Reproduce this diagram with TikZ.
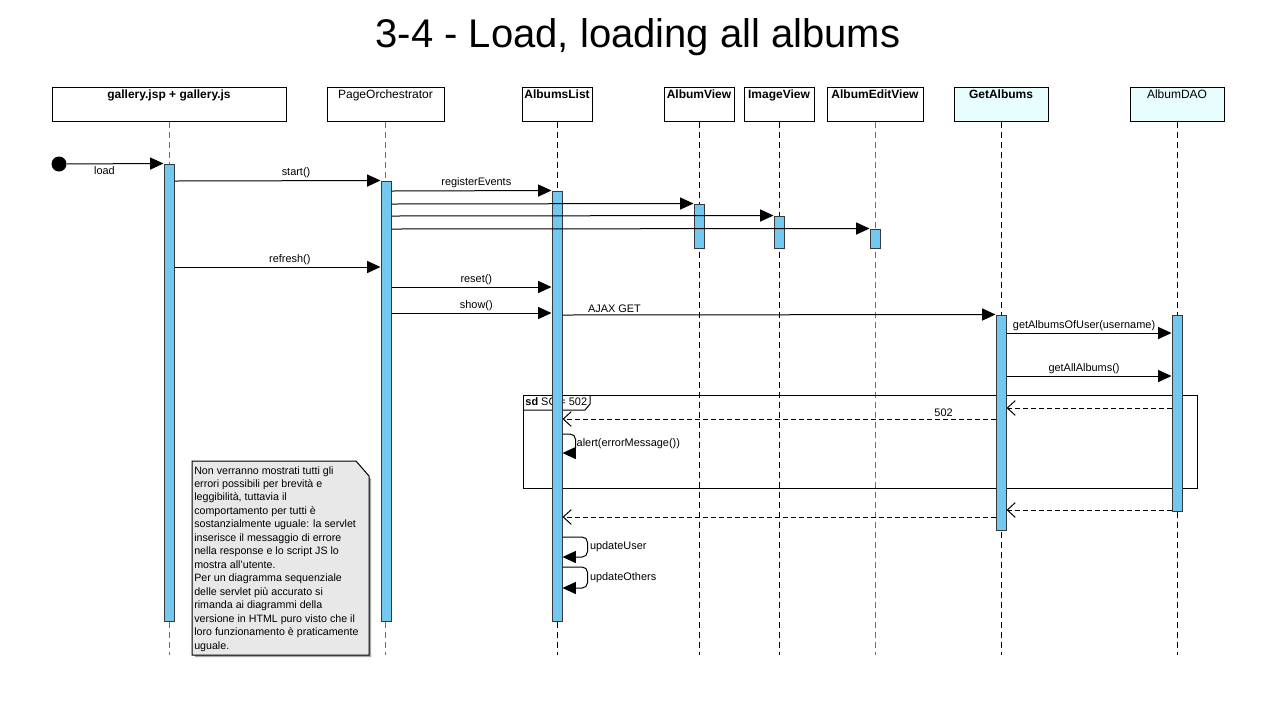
\documentclass[tikz,border=0pt]{standalone}
\usepackage{fontspec}
\setmainfont{Liberation Sans}
\usetikzlibrary{arrows.meta,fit}
\definecolor{actblue}{RGB}{114,200,238}
\definecolor{actedge}{RGB}{54,57,61}
\definecolor{srvcyan}{RGB}{232,253,254}
\definecolor{notegray}{RGB}{232,232,232}
\definecolor{lifegray}{RGB}{110,110,110}

\begin{document}
\begin{tikzpicture}[
  x=0.75pt,y=-0.75pt,
  head/.style={
    draw,
    fill=white,
    inner sep=0pt,
    line width=0.75pt,
    label={[font=\fontsize{9}{10}\selectfont,anchor=north,inner sep=2pt]north:#1}
  },
  server/.style={head=#1,fill=srvcyan},
  life/.style={dash pattern=on 4.5pt off 3pt,line width=0.75pt},
  act/.style={draw=actedge,fill=actblue,inner sep=0pt,minimum width=7.5pt,line width=0.75pt},
  msg/.style={-{Triangle[length=10pt,width=9pt]},line width=0.75pt},
  ret/.style={-{Straight Barb[length=6pt,width=11pt]},dash pattern=on 3.5pt off 2.5pt,line width=0.75pt},
  selfmsg/.style={msg,rounded corners=4pt},
  lbl/.style={font=\fontsize{8.2}{9}\selectfont,inner sep=1.5pt}
]
\useasboundingbox (0,0) rectangle (1276,719);
\node[font=\fontsize{30}{36}\selectfont,anchor=base] (title) at (638,47) {3-4 - Load, loading all albums};

\node[head={\textbf{gallery.jsp + gallery.js}},fit={(52,87) (286,121)}] (gal) {};
\node[head={PageOrchestrator},fit={(327,87) (444,121)}] (po) {};
\node[head={\textbf{AlbumsList}},fit={(522,87) (592,121)}] (al) {};
\node[head={\textbf{AlbumView}},fit={(664,87) (734,121)}] (av) {};
\node[head={\textbf{ImageView}},fit={(744,87) (814,121)}] (iv) {};
\node[head={\textbf{AlbumEditView}},fit={(827,87) (923,121)}] (aev) {};
\node[server={\textbf{GetAlbums}},fit={(954,87) (1048,121)}] (ga) {};
\node[server={AlbumDAO},fit={(1130,87) (1224,121)}] (dao) {};

\draw[life,draw=lifegray] (gal.south) -- (gal.south |- 0,655);
\draw[life,draw=lifegray] (po.south) -- (po.south |- 0,655);
\draw[life] (al.south) -- (al.south |- 0,655);
\draw[life] (av.south) -- (av.south |- 0,655);
\draw[life] (iv.south) -- (iv.south |- 0,655);
\draw[life,draw=lifegray] (aev.south) -- (aev.south |- 0,655);
\draw[life] (ga.south) -- (ga.south |- 0,655);
\draw[life] (dao.south) -- (dao.south |- 0,655);

\node[draw,line width=0.75pt,inner sep=0pt,fit={(523,395) (1197,488)}] (sd) {};
\draw[line width=0.75pt] (523,410) -- (585,410) -- (590,404) -- (590,395);
\node[lbl,anchor=north west,inner sep=2pt] (sdlbl) at (sd.north west) {\textbf{sd} SC = 502};

\fill[gray!70] (195,464) -- (358,464) -- (371,479) -- (371,657) -- (195,657) -- cycle;
\draw[fill=notegray,line width=0.75pt] (192,461) -- (356,461) -- (369,476) -- (369,655) -- (192,655) -- cycle;
\node[anchor=north west,align=left,inner sep=0pt,font=\fontsize{8}{10.1}\selectfont] (notetxt) at (194,466)
  {Non verranno mostrati tutti gli\\errori possibili per brevità e\\leggibilità, tuttavia il\\comportamento per tutti è\\sostanzialmente uguale: la servlet\\inserisce il messaggio di errore\\nella response e lo script JS lo\\mostra all'utente.\\Per un diagramma sequenziale\\delle servlet più accurato si\\rimanda ai diagrammi della\\versione in HTML puro visto che il\\loro funzionamento è praticamente\\uguale.};

\node[act,fit={(169,164) (169,621)}] (galA) {};
\node[act,fit={(386,181) (386,621)}] (poA) {};
\node[act,fit={(557,191) (557,621)}] (alA) {};
\node[act,fit={(699,204) (699,248)}] (avA) {};
\node[act,fit={(779,216) (779,248)}] (ivA) {};
\node[act,fit={(875,229) (875,248)}] (aevA) {};
\node[act,fit={(1001,315) (1001,530)}] (gaA) {};
\node[act,fit={(1177,315) (1177,511)}] (daoA) {};

\node[circle,fill=black,minimum size=11.25pt,inner sep=0pt] (init) at (59,164) {};
\draw[msg] (init) -- node[lbl,below,pos=0.39]{load} (galA.north west);
\draw[msg] (galA.east |- 0,181) -- node[lbl,above,pos=0.59]{start()} (poA.north west);
\draw[msg] (poA.east |- 0,191) -- node[lbl,above,pos=0.53]{registerEvents} (alA.north west);
\draw[msg] (poA.east |- 0,204) -- (avA.north west);
\draw[msg] (poA.east |- 0,216) -- (ivA.north west);
\draw[msg] (poA.east |- 0,229) -- (aevA.north west);
\draw[msg] (galA.east |- 0,267) -- node[lbl,above,pos=0.56]{refresh()} (poA.west |- 0,267);
\draw[msg] (poA.east |- 0,287) -- node[lbl,above,pos=0.53]{reset()} (alA.west |- 0,287);
\draw[msg] (poA.east |- 0,313) -- node[lbl,above,pos=0.53]{show()} (alA.west |- 0,313);
\draw[msg] (alA.east |- 0,315) -- node[lbl,above,pos=0.12]{AJAX GET} (gaA.north west);
\draw[msg] (gaA.east |- 0,333) -- node[lbl,above,pos=0.47]{getAlbumsOfUser(username)} (daoA.west |- 0,333);
\draw[msg] (gaA.east |- 0,376) -- node[lbl,above,pos=0.47]{getAllAlbums()} (daoA.west |- 0,376);
\draw[ret] (daoA.west |- 0,408) -- (gaA.east |- 0,408);
\draw[ret] (gaA.west |- 0,419) -- node[lbl,above,pos=0.12]{502} (alA.east |- 0,419);
\draw[selfmsg] (alA.east |- 0,434) -- ++(13,0) -- node[lbl,right,inner sep=0.5pt]{alert(errorMessage())} ++(0,19) -- (alA.east |- 0,453);
\draw[ret] (daoA.west |- 0,510) -- (gaA.east |- 0,510);
\draw[ret] (gaA.west |- 0,517) -- (alA.east |- 0,517);
\draw[selfmsg] (alA.east |- 0,537) -- ++(25,0) -- node[lbl,right]{updateUser} ++(0,20) -- (alA.east |- 0,557);
\draw[selfmsg] (alA.east |- 0,567) -- ++(25,0) -- node[lbl,right]{updateOthers} ++(0,21) -- (alA.east |- 0,588);
\end{tikzpicture}
\end{document}
